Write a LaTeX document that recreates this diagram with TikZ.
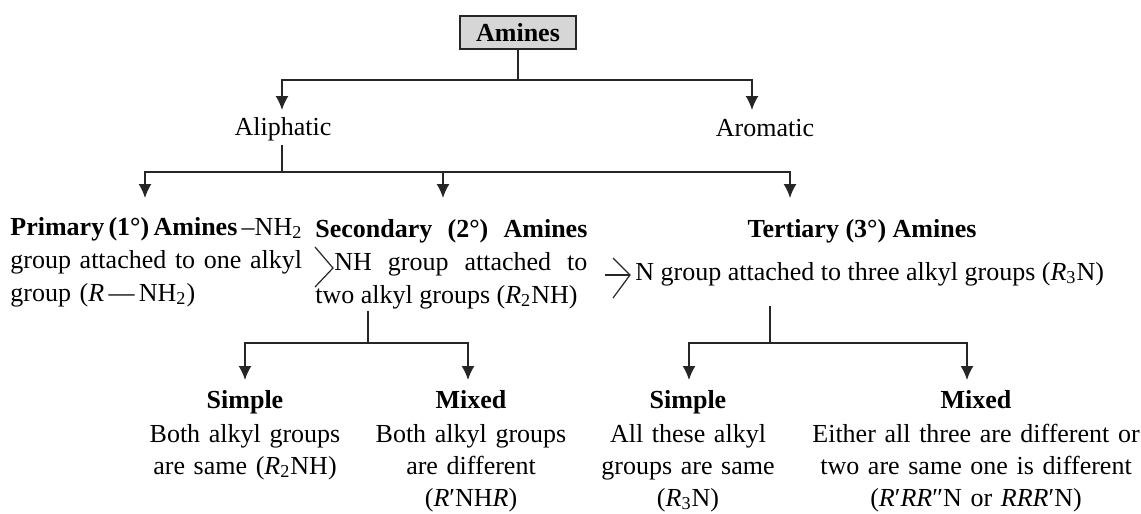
\documentclass[tikz,border=0pt]{standalone}
\usepackage{fontspec}
\setmainfont{Liberation Serif}
\usetikzlibrary{arrows.meta, calc, positioning}
\definecolor{boxgray}{RGB}{214,214,214}
\tikzstyle{root} = [rectangle, line width=1.2pt, draw=black!85, fill=boxgray, minimum width=58pt, minimum height=16.5pt, inner sep=0pt]
\tikzstyle{kind} = [inner sep=0pt, anchor=base]
\tikzstyle{block} = [inner sep=0pt, anchor=base west]
\tikzstyle{leaf} = [inner sep=0pt, anchor=base, text width=165pt, align=center, font=\fontsize{13}{16}\selectfont]
\tikzstyle{wire} = [line width=0.8pt, draw=black!85]
\tikzstyle{arrow} = [wire, -{Latex[length=7pt,width=6.5pt]}]
\tikzstyle{bond} = [line width=0.6pt, draw=black!85]

\begin{document}
\begin{tikzpicture}[x=0.5pt, y=-0.5pt, every node/.style={font=\fontsize{13}{16.5}\selectfont}]
		\useasboundingbox (0,0) rectangle (1141,514);

		% top of the tree
		\node (Amines) [root] at (518,32.5) {\textbf{Amines}};
		\node (Aliphatic) [kind] at (283,135) {Aliphatic};
		\node (Aromatic) [kind] at (765,136) {Aromatic};

		% classes of aliphatic amines
		\node (Primary) [block, text width=150pt, align=left] at (10,235) {\textbf{Primary\,(1°)\,Amines}\,–NH\textsubscript{2}\\group attached to one alkyl\\group (\textit{R}\,—\,NH\textsubscript{2})};
		\node (Secondary) [block, text width=136pt, align=justify] at (315,237) {\textbf{Secondary (2°) Amines}\linebreak\hspace*{9.5pt}NH group attached to\linebreak two alkyl groups (\textit{R}\textsubscript{2}NH)\parfillskip=0pt};
		\node (TertiaryTitle) [kind] at (862,237) {\textbf{Tertiary (3°) Amines}};
		\node (Tertiary) [block, align=left] at (635,280) {N group attached to three alkyl groups (\textit{R}\textsubscript{3}N)};

		% simple and mixed
		\node (SecSimple) [leaf] at (245,408) {\textbf{Simple}\\[1pt]Both alkyl groups\\are same (\textit{R}\textsubscript{2}NH)};
		\node (SecMixed) [leaf] at (471,408) {\textbf{Mixed}\\[1pt]Both alkyl groups\\are different\\(\textit{R}′NH\textit{R})};
		\node (TerSimple) [leaf] at (688,408) {\textbf{Simple}\\[1pt]All these alkyl\\groups are same\\(\textit{R}\textsubscript{3}N)};
		\node (TerMixed) [leaf] at (976,408) {\textbf{Mixed}\\[1pt]Either all three are different or\\two are same one is different\\(\textit{R}′\textit{RR}″N or \textit{RRR}′N)};

		% bonds
		\draw [bond] ([shift={(0,10)}]Secondary.base west) -- ++(18,21) -- ++(-18,19);
		\draw [bond] ([shift={(-30,-5)}]Tertiary.base west) -- ++(25,0);
		\draw [bond] ([shift={(-22,-22)}]Tertiary.base west) -- ++(17,17) -- ++(-17,23);

		\coordinate (AmFork) at (518,80);
		\coordinate (AliIn) at (282,110);
		\coordinate (AroIn) at (752,110);
		\coordinate (AliFork) at (282,172);
		\coordinate (PrimaryIn) at (145,198);
		\coordinate (SecondaryIn) at (443,198);
		\coordinate (TertiaryIn) at (790,198);
		\coordinate (SecFork) at (368,343);
		\coordinate (TerFork) at (770,343);
		\coordinate (SecSimpleIn) at (245,380);
		\coordinate (SecMixedIn) at (468,380);
		\coordinate (TerSimpleIn) at (689,380);
		\coordinate (TerMixedIn) at (967,380);

		\draw [wire] (Amines) -- (AmFork);
		\draw [arrow] (AmFork) -| (AliIn);
		\draw [arrow] (AmFork) -| (AroIn);

		\draw [wire] ($(Aliphatic.south -| AliFork)+(0,4)$) -- (AliFork);
		\draw [arrow] (AliFork) -| (PrimaryIn);
		\draw [arrow] (AliFork) -| (SecondaryIn);
		\draw [arrow] (AliFork) -| (TertiaryIn);

		\draw [wire] ($(Secondary.south -| SecFork)+(0,2)$) -- (SecFork);
		\draw [arrow] (SecFork) -| (SecSimpleIn);
		\draw [arrow] (SecFork) -| (SecMixedIn);

		\draw [wire] ($(Tertiary.south -| TerFork)+(0,20)$) -- (TerFork);
		\draw [arrow] (TerFork) -| (TerSimpleIn);
		\draw [arrow] (TerFork) -| (TerMixedIn);
\end{tikzpicture}
\end{document}
